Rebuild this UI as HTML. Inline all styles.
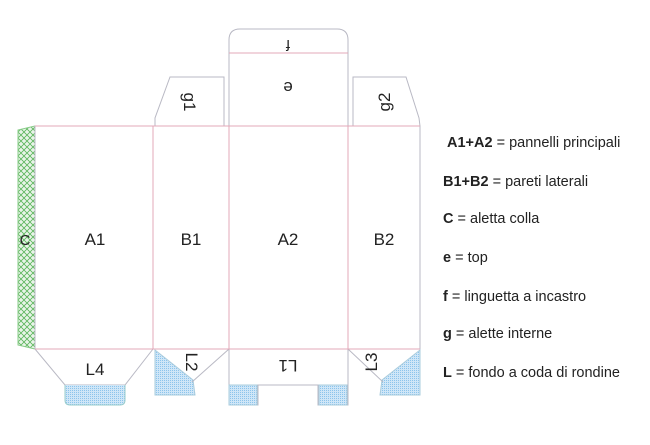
<html><body style="margin:0;background:#fff">
<svg width="650" height="445" xmlns="http://www.w3.org/2000/svg" style="position:absolute;left:0;top:0">
<defs>
<pattern id="b" width="2" height="2" patternUnits="userSpaceOnUse"><rect width="2" height="2" fill="#cfe6f7"/><rect width="1" height="1" fill="#8cc4ec"/></pattern>
<pattern id="g" width="6" height="6" patternUnits="userSpaceOnUse"><rect width="6" height="6" fill="#e8f4e8"/><path d="M0 0L6 6M6 0L0 6" stroke="#5bb55b" stroke-width="0.8"/></pattern>
</defs>
<g fill="none" stroke="#b9b9c4" stroke-width="1">
<path d="M35 126L18 130L18 345L35 349" fill="url(#g)" stroke="#8c8"/>
<rect x="35" y="126" width="385" height="223"/>
<path d="M155 126L155 118L170 77L224 77L224 126"/>
<path d="M229 126L229 53L348 53L348 126"/>
<path d="M229 53L229 40Q229 29 240 29L337 29Q348 29 348 40L348 53"/>
<path d="M353 126L353 77L406 77L419 118L420 126"/>
<path d="M35 349L65 385L125 385L153 349"/>
<path d="M65 385L65 400Q65 405 70 405L120 405Q125 405 125 400L125 385" fill="url(#b)" stroke="#9cc"/>
<path d="M155 350L193 380L195 395L155 395Z" fill="url(#b)" stroke="#acd"/>
<path d="M192 382L229 349"/>
<path d="M229 349L229 405L258 405L258 385L318 385L318 405L348 405L348 349"/>
<rect x="229" y="385" width="28" height="20" fill="url(#b)" stroke="#acd"/>
<rect x="319" y="385" width="28" height="20" fill="url(#b)" stroke="#acd"/>
<path d="M420 350L382 380L380 395L420 395Z" fill="url(#b)" stroke="#acd"/>
<path d="M383 382L348 349"/>
</g>
<g stroke="#e3a8b8" stroke-width="1">
<line x1="35" y1="126" x2="420" y2="126"/><line x1="35" y1="349" x2="420" y2="349"/>
<line x1="153" y1="126" x2="153" y2="349"/><line x1="229" y1="126" x2="229" y2="349"/>
<line x1="348" y1="126" x2="348" y2="349"/><line x1="229" y1="53" x2="348" y2="53"/>
</g>
<g font-family="Liberation Sans, sans-serif" font-size="17" fill="#222" text-anchor="middle">
<text x="95" y="245">A1</text><text x="191" y="245">B1</text><text x="288" y="245">A2</text><text x="384" y="245">B2</text>
<text x="25" y="245" font-size="15">C</text>
<text x="95" y="375">L4</text>
<text transform="translate(288,82) rotate(180)">e</text>
<text transform="translate(288,40) rotate(180)" font-size="15">f</text>
<text transform="translate(288,360) rotate(180)">L1</text>
<text transform="translate(184,102) rotate(90)">g1</text>
<text transform="translate(390,102) rotate(-90)">g2</text>
<text transform="translate(186,362) rotate(90)">L2</text>
<text transform="translate(377,362) rotate(-90)">L3</text>
</g>
<g font-family="Liberation Sans, sans-serif" font-size="14.5" fill="#222">
<text x="447" y="147"><tspan font-weight="bold">A1+A2</tspan> = pannelli principali</text>
<text x="443" y="186"><tspan font-weight="bold">B1+B2</tspan> = pareti laterali</text>
<text x="443" y="223"><tspan font-weight="bold">C</tspan> = aletta colla</text>
<text x="443" y="262"><tspan font-weight="bold">e</tspan> = top</text>
<text x="443" y="301"><tspan font-weight="bold">f</tspan> = linguetta a incastro</text>
<text x="443" y="338"><tspan font-weight="bold">g</tspan> = alette interne</text>
<text x="443" y="377"><tspan font-weight="bold">L</tspan> = fondo a coda di rondine</text>
</g>
</svg>
</body></html>
